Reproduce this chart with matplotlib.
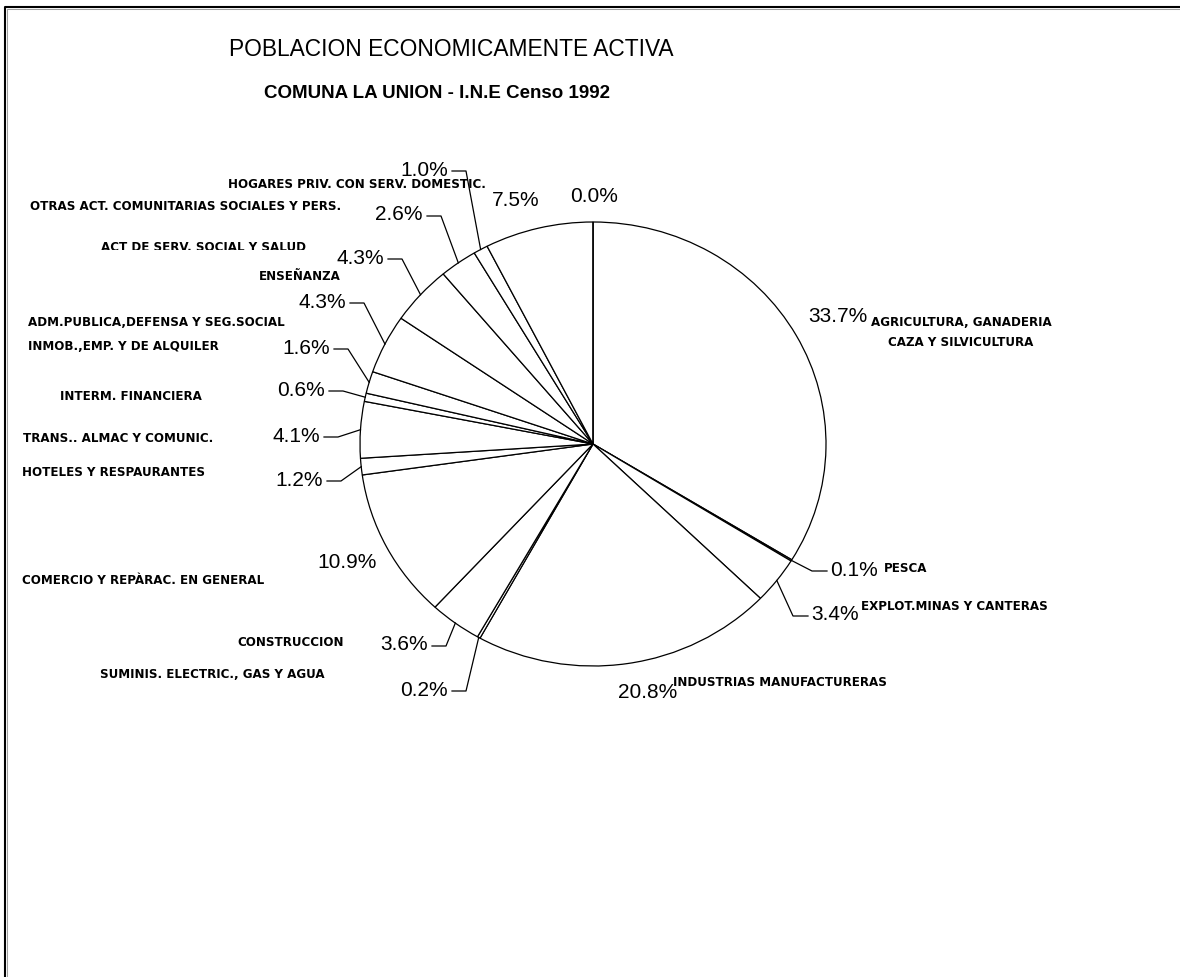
import matplotlib.pyplot as plt
from matplotlib.patches import Rectangle
import numpy as np

# PEA by branch of activity, Comuna La Union, INE census 1992 (percent)
sectors = [
    "AGRICULTURA, GANADERIA\nCAZA Y SILVICULTURA",
    "PESCA",
    "EXPLOT.MINAS Y CANTERAS",
    "INDUSTRIAS MANUFACTURERAS",
    "SUMINIS. ELECTRIC., GAS Y AGUA",
    "CONSTRUCCION",
    "COMERCIO Y REPÀRAC. EN GENERAL",
    "HOTELES Y RESPAURANTES",
    "TRANS., ALMAC Y COMUNIC.",
    "INTERM. FINANCIERA",
    "INMOB.,EMP. Y DE ALQUILER",
    "ADM.PUBLICA,DEFENSA Y SEG.SOCIAL",
    "ENSEÑANZA",
    "ACT DE SERV. SOCIAL Y SALUD",
    "OTRAS ACT. COMUNITARIAS SOCIALES Y PERS.",
    "HOGARES PRIV. CON SERV. DOMESTIC.",
    "",
]
shares = [33.7, 0.1, 3.4, 20.8, 0.2, 3.6, 10.9, 1.2, 4.1, 0.6, 1.6, 4.3, 4.3, 2.6, 1.0, 7.5, 0.0]

# layout, in pixels from the top-left corner of the canvas
W, H = 1180, 977
CX, CY, RX, RY = 593, 444, 233, 222

pct_pos = [(808, 317, "left"), (830, 570, "left"), (811, 615, "left"), (618, 693, "left"),
           (448, 690, "right"), (428, 645, "right"), (377, 563, "right"), (323, 480, "right"),
           (320, 436, "right"), (325, 390, "right"), (330, 348, "right"), (346, 302, "right"),
           (384, 258, "right"), (423, 215, "right"), (448, 170, "right"), (492, 201, "left"),
           (570, 196, "left")]
has_leader = [False, True, True, False, True, True, False, True, True, True, True, True,
              True, True, True, False, False]
name_pos = [(961, 322, "center"), (884, 569, "left"), (861, 607, "left"), (673, 682, "left"),
            (100, 674, "left"), (237, 643, "left"), (22, 581, "left"), (22, 473, "left"),
            (23, 439, "left"), (60, 396, "left"), (28, 347, "left"), (28, 323, "left"),
            (259, 276, "left"), (101, 247.5, "left"), (30, 206, "left"), (228, 185, "left"),
            (0, 0, "left")]

FONT = "Liberation Sans"
SMALL = "DejaVu Sans"

fig = plt.figure(figsize=(W / 100, H / 100), dpi=100)
fig.patch.set_facecolor("white")

# the pie sits in its own axes, stretched to the slightly wide ellipse
ax = fig.add_axes([(CX - RX) / W, 1 - (CY + RY) / H, 2 * RX / W, 2 * RY / H])
ax.pie(shares, startangle=90, counterclock=False,
       wedgeprops=dict(facecolor="white", edgecolor="black", linewidth=0.9))
ax.set_aspect("auto")
ax.set_xlim(-1, 1)
ax.set_ylim(-1, 1)

# overlay in pixel coordinates for labels, leaders and frame
ov = fig.add_axes([0, 0, 1, 1])
ov.set_xlim(0, W)
ov.set_ylim(H, 0)
ov.axis("off")

total = sum(shares)
frac = np.cumsum(shares) / total
mid = frac - np.array(shares) / total / 2
theta = np.radians(90 - 360 * mid)
arc_x = CX + RX * np.cos(theta)
arc_y = CY - RY * np.sin(theta)

for i, v in enumerate(shares):
    x, y, ha = pct_pos[i]
    ov.text(x, y, f"{v:.1f}%", ha=ha, va="center", fontsize=15, family=FONT, color="black")
    if has_leader[i]:
        if ha == "right":
            x0 = x + 4
            x1 = x0 + 14
        else:
            x0 = x - 3
            x1 = x0 - 15
        ov.plot([x0, x1, arc_x[i]], [y + 1, y + 1, arc_y[i]], color="black", lw=0.9)

    name = sectors[i]
    if name:
        nx, ny, nha = name_pos[i]
        for k, line in enumerate(name.split("\n")):
            ov.text(nx, ny + 21 * k, line, ha=nha, va="center", fontsize=8.6,
                    fontweight="bold", family=SMALL, color="black")

# two category labels are cut along their lower edge
ov.add_patch(Rectangle((95, 249.5), 240, 8, facecolor="white", edgecolor="none", zorder=5))
ov.add_patch(Rectangle((18, 441.5), 230, 8, facecolor="white", edgecolor="none", zorder=5))

ov.text(451, 50, "POBLACION ECONOMICAMENTE ACTIVA", ha="center", va="center",
        fontsize=16.4, family=FONT, color="black")
ov.text(437, 93, "COMUNA LA UNION - I.N.E Censo 1992", ha="center", va="center",
        fontsize=13.5, fontweight="bold", family=FONT, color="black")

# frame along the left and top edges
ov.plot([6.6, 6.6, W], [H, 8.6, 8.6], color="#a0a0a0", lw=0.75, clip_on=False)
ov.plot([5, 5, W], [H, 7, 7], color="black", lw=1.5, clip_on=False)

fig.savefig("out.png", dpi=100, facecolor="white")
